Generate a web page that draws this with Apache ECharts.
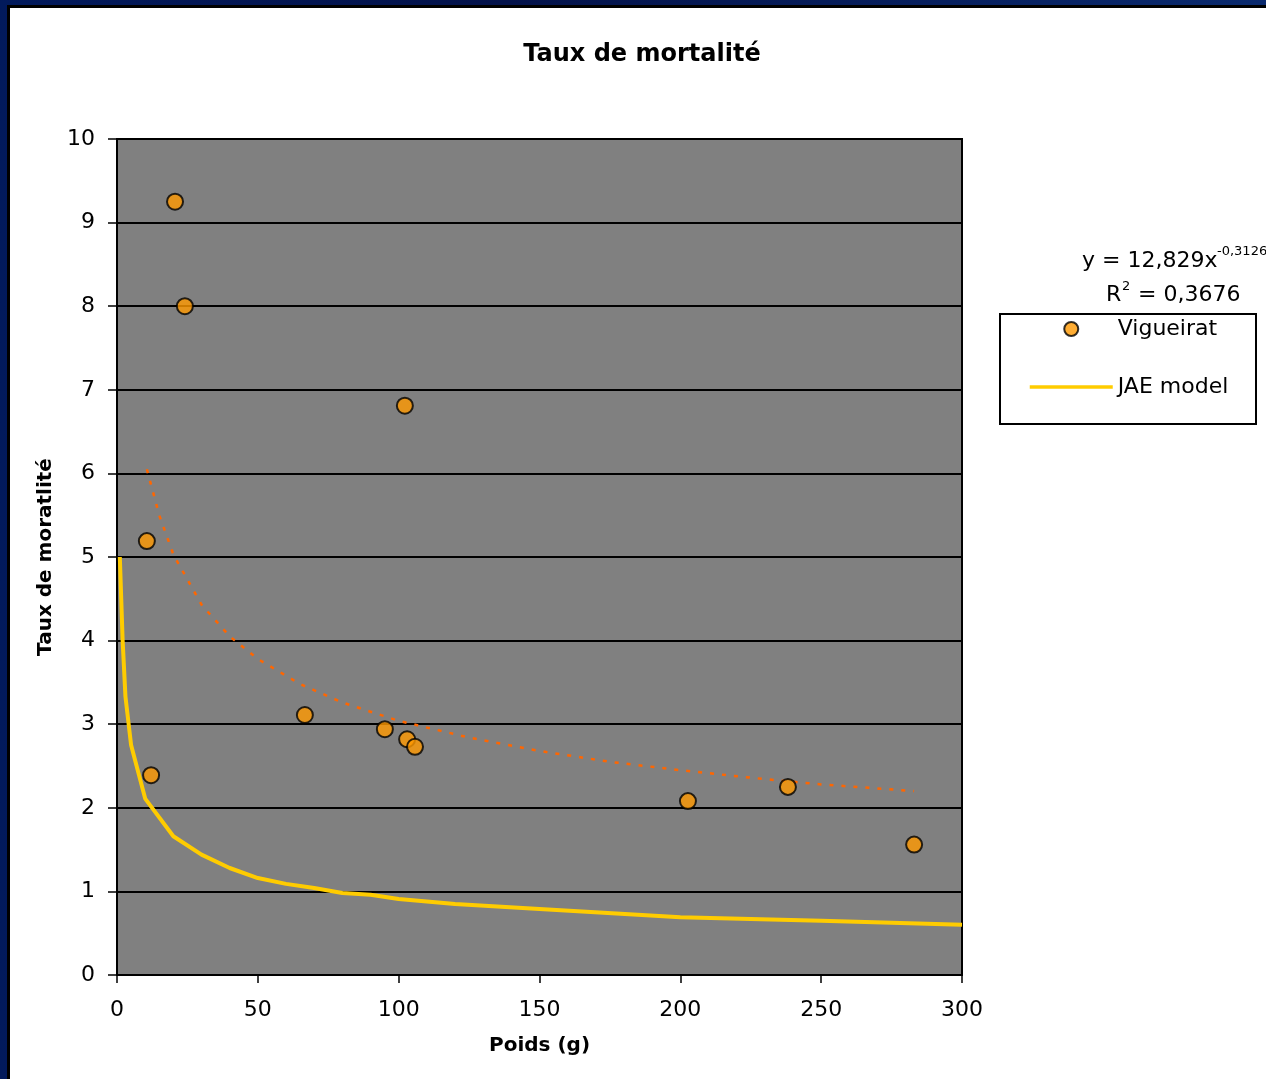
<!DOCTYPE html>
<html>
<head>
<meta charset="utf-8">
<style>
  html, body { margin: 0; padding: 0; width: 1266px; height: 1079px; overflow: hidden;
    background: linear-gradient(90deg, #021a5c 0%, #03124a 40%, #0a2a6e 100%); }
  .panel { position: absolute; left: 7px; top: 5px; right: 0; bottom: 0;
    background: #fff; border-left: 3px solid #000; border-top: 3px solid #000; }
  #chart { position: absolute; left: 0; top: 0; width: 1266px; height: 1079px; }
</style>
<script src="https://cdn.jsdelivr.net/npm/echarts@6/dist/echarts.min.js"></script>
</head>
<body>
<div class="panel"></div>
<div id="chart"></div>
<script>
// Vigueirat measurements (poids g, taux)
var vigueiratX = [20.6, 24.1, 102.2, 10.6, 66.7, 95.1, 103.0, 105.8, 12.1, 202.7, 238.2, 283.0];
var vigueiratY = [9.25, 8.00, 6.81, 5.19, 3.11, 2.94, 2.82, 2.73, 2.39, 2.08, 2.25, 1.56];

// JAE model curve
var jaeX = [1, 2, 3, 5, 10, 20, 30, 40, 50, 60, 70, 80, 90, 100, 120, 150, 200, 250, 300];
var jaeY = [5.0, 4.0, 3.33, 2.75, 2.11, 1.66, 1.44, 1.28, 1.16, 1.09, 1.04, 0.98, 0.96, 0.91, 0.85, 0.79, 0.69, 0.65, 0.60];

// power trend line (dotted)
var trendX = [10.6, 15, 20, 30, 40, 50, 65, 80, 100, 125, 150, 175, 200, 225, 250, 283];
var trendY = [6.05, 5.5, 5.03, 4.43, 4.05, 3.78, 3.48, 3.26, 3.04, 2.84, 2.68, 2.55, 2.45, 2.36, 2.28, 2.2];

var xTicks = [0, 50, 100, 150, 200, 250, 300];
var yTicks = [0, 1, 2, 3, 4, 5, 6, 7, 8, 9, 10];

function pairs (xs, ys) {
  return xs.map(function (x, i) { return [x, ys[i]]; });
}

var chart = echarts.init(document.getElementById('chart'));
var font = 'DejaVu Sans';

var option = {
  animation: false,
  textStyle: { fontFamily: font, color: '#000' },
  title: {
    text: 'Taux de mortalité',
    left: 637, top: 38, textAlign: 'center',
    textStyle: { fontFamily: font, fontSize: 24, fontWeight: 'bold', color: '#000' }
  },
  grid: {
    left: 117, right: 304, top: 139, bottom: 104,
    show: true, backgroundColor: '#808080', borderColor: '#000', borderWidth: 2
  },
  legend: {
    data: [
      'Vigueirat',
      { name: 'JAE model', itemStyle: { color: 'transparent', borderColor: 'transparent', borderWidth: 0 } }
    ],
    orient: 'vertical',
    left: 1028, top: 318,
    itemWidth: 83, itemHeight: 14, itemGap: 36,
    padding: 0,
    lineStyle: { width: 3.5 },
    textStyle: { fontFamily: font, fontSize: 22, color: '#000', lineHeight: 14 }
  },
  xAxis: {
    type: 'value', min: xTicks[0], max: xTicks[xTicks.length - 1], interval: 50,
    name: 'Poids (g)', nameLocation: 'middle', nameGap: 61,
    nameTextStyle: { fontFamily: font, fontSize: 20, fontWeight: 'bold', color: '#000' },
    axisLine: { show: true, lineStyle: { color: '#000', width: 2 } },
    axisTick: { show: true, length: 8, lineStyle: { color: '#000', width: 1.5 } },
    axisLabel: { fontFamily: font, fontSize: 22, color: '#000', margin: 24 },
    splitLine: { show: false }
  },
  yAxis: {
    type: 'value', min: yTicks[0], max: yTicks[yTicks.length - 1], interval: 1,
    name: 'Taux de moratlité', nameLocation: 'middle', nameGap: 58, nameRotate: 90,
    nameTextStyle: { fontFamily: font, fontSize: 20, fontWeight: 'bold', color: '#000' },
    axisLine: { show: true, lineStyle: { color: '#000', width: 2 } },
    axisTick: { show: true, length: 9, lineStyle: { color: '#000', width: 1.5 } },
    axisLabel: { fontFamily: font, fontSize: 22, color: '#000', margin: 22 },
    splitLine: { show: true, lineStyle: { color: '#000', width: 2 } }
  },
  series: [
    {
      name: 'trend',
      type: 'line',
      data: pairs(trendX, trendY),
      showSymbol: false,
      symbol: 'none',
      smooth: false,
      lineStyle: { color: '#ff6600', width: 2.5, type: [4, 8] },
      z: 2
    },
    {
      name: 'JAE model',
      type: 'line',
      data: pairs(jaeX, jaeY),
      symbol: 'none',
      itemStyle: { color: '#ffcc00' },
      lineStyle: { color: '#ffcc00', width: 4 },
      z: 3
    },
    {
      name: 'Vigueirat',
      type: 'scatter',
      data: pairs(vigueiratX, vigueiratY),
      symbol: 'circle',
      symbolSize: 16,
      itemStyle: { color: '#ff9900', borderColor: '#000', borderWidth: 2 },
      z: 4
    }
  ],
  graphic: [
    {
      type: 'rect',
      shape: { x: 1000, y: 314, width: 256, height: 110 },
      style: { fill: 'none', stroke: '#000', lineWidth: 2 }
    },
    {
      type: 'text', left: 1082, top: 250,
      style: { text: 'y = 12,829x', fontFamily: font, fontSize: 22, fill: '#000' }
    },
    {
      type: 'text', left: 1217, top: 245,
      style: { text: '-0,3126', fontFamily: font, fontSize: 13, fill: '#000' }
    },
    {
      type: 'text', left: 1106, top: 284,
      style: { text: 'R', fontFamily: font, fontSize: 22, fill: '#000' }
    },
    {
      type: 'text', left: 1122, top: 280,
      style: { text: '2', fontFamily: font, fontSize: 13, fill: '#000' }
    },
    {
      type: 'text', left: 1131, top: 284,
      style: { text: ' = 0,3676', fontFamily: font, fontSize: 22, fill: '#000' }
    }
  ]
};

chart.setOption(option);
</script>
</body>
</html>
